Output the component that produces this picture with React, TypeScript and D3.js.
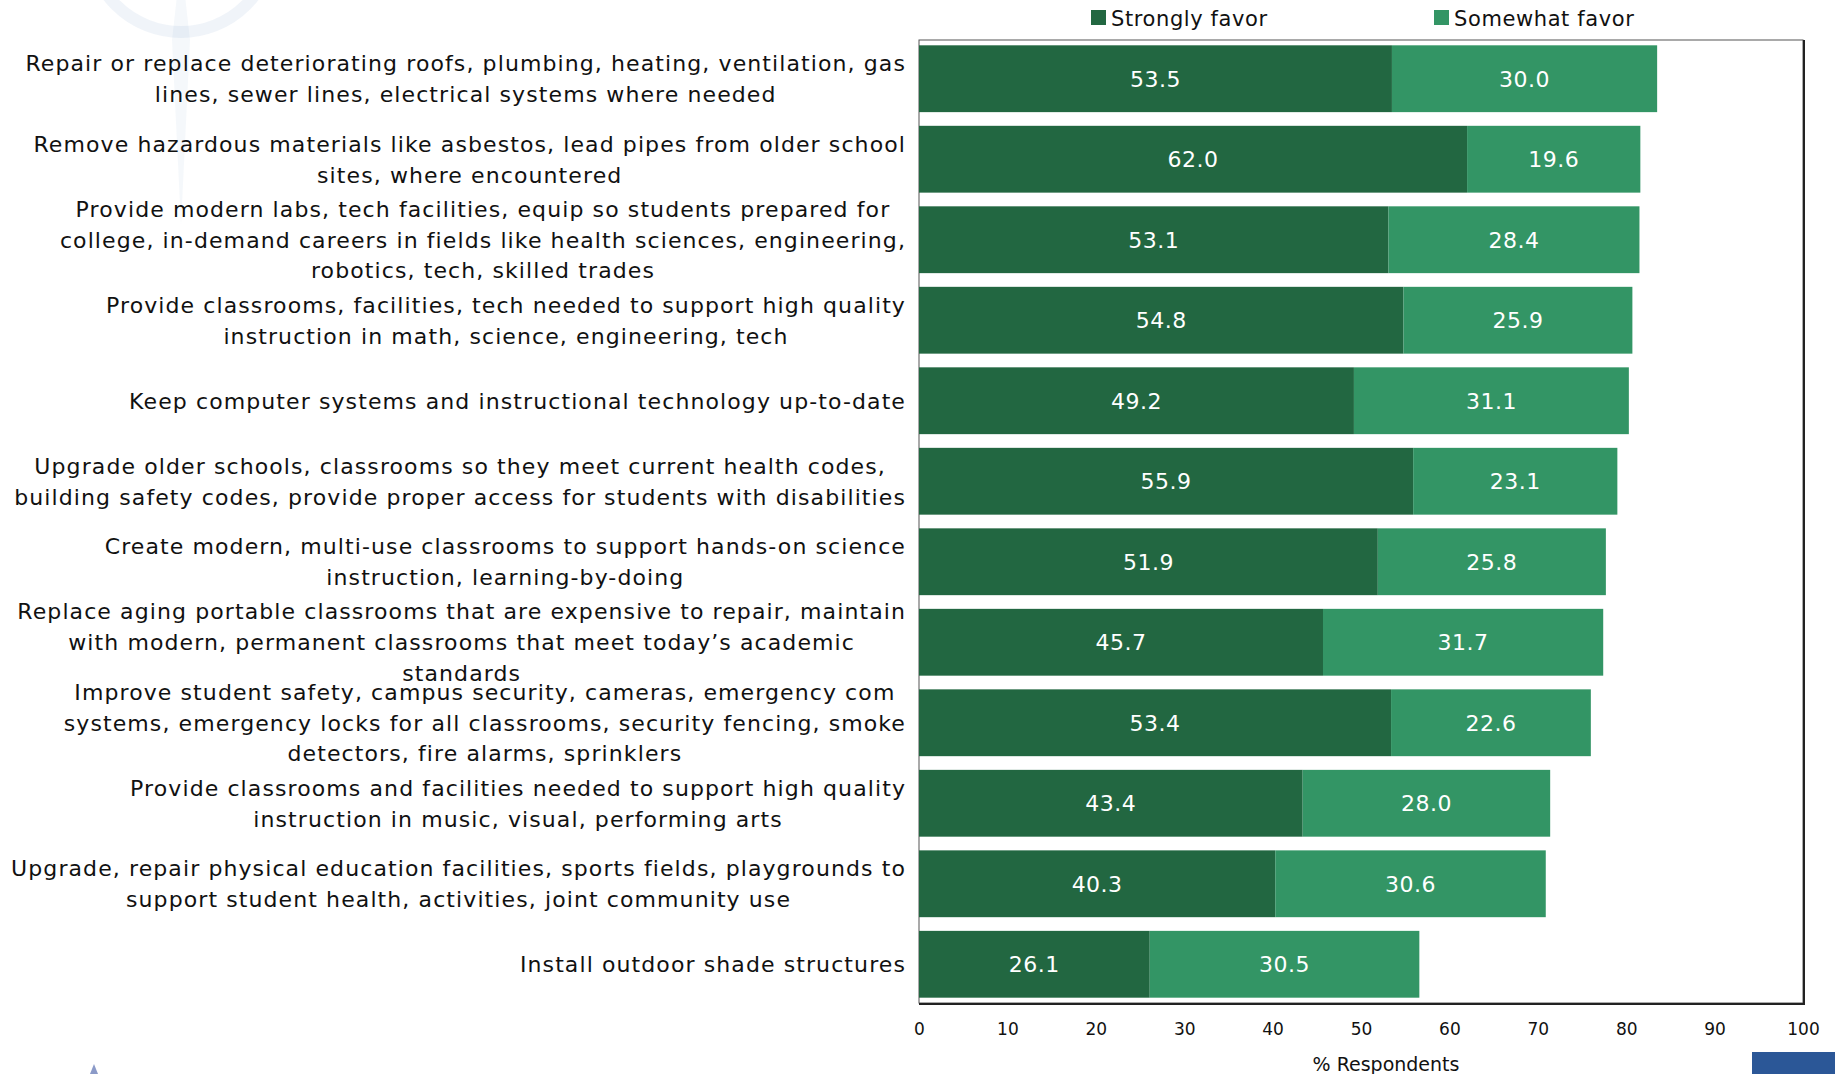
import React, { useEffect, useRef } from 'react';
import * as d3 from 'd3';

const categories: string[][] = [
  ['Repair or replace deteriorating roofs, plumbing, heating, ventilation, gas', 'lines, sewer lines, electrical systems where needed'],
  ['Remove hazardous materials like asbestos, lead pipes from older school', 'sites, where encountered'],
  ['Provide modern labs, tech facilities, equip so students prepared for', 'college, in-demand careers in fields like health sciences, engineering,', 'robotics, tech, skilled trades'],
  ['Provide classrooms, facilities, tech needed to support high quality', 'instruction in math, science, engineering, tech'],
  ['Keep computer systems and instructional technology up-to-date'],
  ['Upgrade older schools, classrooms so they meet current health codes,', 'building safety codes, provide proper access for students with disabilities'],
  ['Create modern, multi-use classrooms to support hands-on science', 'instruction, learning-by-doing'],
  ['Replace aging portable classrooms that are expensive to repair, maintain', 'with modern, permanent classrooms that meet today\u2019s academic', 'standards'],
  ['Improve student safety, campus security, cameras, emergency com', 'systems, emergency locks for all classrooms, security fencing, smoke', 'detectors, fire alarms, sprinklers'],
  ['Provide classrooms and facilities needed to support high quality', 'instruction in music, visual, performing arts'],
  ['Upgrade, repair physical education facilities, sports fields, playgrounds to', 'support student health, activities, joint community use'],
  ['Install outdoor shade structures'],
];

const stronglyFavor = [53.5, 62.0, 53.1, 54.8, 49.2, 55.9, 51.9, 45.7, 53.4, 43.4, 40.3, 26.1];
const somewhatFavor = [30.0, 19.6, 28.4, 25.9, 31.1, 23.1, 25.8, 31.7, 22.6, 28.0, 30.6, 30.5];
const seriesNames = ['Strongly favor', 'Somewhat favor'];
const xTicks = [0, 10, 20, 30, 40, 50, 60, 70, 80, 90, 100];

const W = 1835;
const H = 1074;
const FONT = '"DejaVu Sans", Verdana, sans-serif';
const COLORS = ['#226741', '#339565'];

const App: React.FC = () => {
  const svgRef = useRef<SVGSVGElement>(null);

  useEffect(() => {
    const svg = d3.select(svgRef.current);
    svg.selectAll('*').remove();

    const plot = { left: 919, right: 1803, top: 40, bottom: 1003 };
    const labelRight = 906;
    const lineH = 30.8;

    // faint watermark
    svg
      .append('circle')
      .attr('cx', 181)
      .attr('cy', -60)
      .attr('r', 92)
      .attr('fill', 'none')
      .attr('stroke', '#5b86b8')
      .attr('stroke-width', 12)
      .attr('opacity', 0.09);
    svg
      .append('path')
      .attr('d', 'M181,-40 L190,40 L181,225 L172,40 Z')
      .attr('fill', '#5b86b8')
      .attr('opacity', 0.06);

    const x = d3.scaleLinear().domain([0, 100]).range([plot.left, plot.right]);
    const y = d3
      .scaleBand<number>()
      .domain(d3.range(categories.length))
      .range([plot.top, plot.bottom])
      .paddingInner(0.17)
      .paddingOuter(0.066);

    // frame
    svg
      .append('rect')
      .attr('x', plot.left)
      .attr('y', plot.top)
      .attr('width', plot.right - plot.left)
      .attr('height', plot.bottom - plot.top)
      .attr('fill', 'white')
      .attr('stroke', '#555')
      .attr('stroke-width', 1);
    svg
      .append('path')
      .attr('d', `M${plot.right + 1},${plot.top} V${plot.bottom + 1} H${plot.left}`)
      .attr('fill', 'none')
      .attr('stroke', '#222')
      .attr('stroke-width', 2);

    // bars
    const rows = categories.map((c, i) => ({ i, a: stronglyFavor[i], b: somewhatFavor[i] }));
    const g = svg.append('g');
    rows.forEach((r) => {
      const segs = [
        { x0: 0, v: r.a, c: COLORS[0] },
        { x0: r.a, v: r.b, c: COLORS[1] },
      ];
      segs.forEach((s) => {
        g.append('rect')
          .attr('x', x(s.x0))
          .attr('y', y(r.i)!)
          .attr('width', x(s.x0 + s.v) - x(s.x0))
          .attr('height', y.bandwidth())
          .attr('fill', s.c);
        g.append('text')
          .attr('x', (x(s.x0) + x(s.x0 + s.v)) / 2)
          .attr('y', y(r.i)! + y.bandwidth() / 2)
          .attr('dy', '0.36em')
          .attr('text-anchor', 'middle')
          .attr('fill', 'white')
          .style('font-family', FONT)
          .style('font-size', '22px')
          .style('letter-spacing', '0.5px')
          .text(s.v.toFixed(1));
      });
    });

    // category labels: block right-aligned, lines centered in block
    categories.forEach((lines, i) => {
      const cy = y(i)! + y.bandwidth() / 2;
      const t = svg
        .append('g')
        .style('font-family', FONT)
        .style('font-size', '22px')
        .style('letter-spacing', '1.1px')
        .attr('fill', '#111');
      const texts = lines.map((ln, j) =>
        t
          .append('text')
          .attr('y', cy + (j - (lines.length - 1) / 2) * lineH)
          .attr('dy', '0.36em')
          .attr('text-anchor', 'middle')
          .text(ln),
      );
      const maxW = d3.max(texts, (s) => (s.node() as SVGTextElement).getComputedTextLength()) || 0;
      texts.forEach((s) => s.attr('x', labelRight - maxW / 2));
    });

    // x axis
    const axis = svg
      .append('g')
      .attr('transform', `translate(0,${plot.bottom})`)
      .call(d3.axisBottom(x).tickValues(xTicks).tickSize(0).tickPadding(20));
    axis.select('.domain').remove();
    axis
      .selectAll('text')
      .attr('fill', '#111')
      .style('font-family', FONT)
      .style('font-size', '17px');

    svg
      .append('text')
      .attr('x', 1386)
      .attr('y', 1064)
      .attr('dy', '0.36em')
      .attr('text-anchor', 'middle')
      .attr('fill', '#111')
      .style('font-family', FONT)
      .style('font-size', '19px')
      .text('% Respondents');

    // legend
    const legendX = [1091, 1434];
    seriesNames.forEach((name, k) => {
      svg
        .append('rect')
        .attr('x', legendX[k])
        .attr('y', 10)
        .attr('width', 15)
        .attr('height', 15)
        .attr('fill', COLORS[k]);
      svg
        .append('text')
        .attr('x', legendX[k] + 20)
        .attr('y', 18)
        .attr('dy', '0.36em')
        .attr('fill', '#111')
        .style('font-family', FONT)
        .style('font-size', '21px')
        .style('letter-spacing', '0.6px')
        .text(name);
    });

    // logo fragments
    svg.append('rect').attr('x', 1752).attr('y', 1052).attr('width', 83).attr('height', 22).attr('fill', '#2b5797');
    svg.append('path').attr('d', 'M94,1064 L98,1074 L90,1074 Z').attr('fill', '#5a6fb0').attr('opacity', 0.7);
  }, []);

  return (
    <svg
      ref={svgRef}
      width={W}
      height={H}
      style={{ position: 'absolute', left: 0, top: 0, display: 'block', background: 'white' }}
    />
  );
};

export default App;
